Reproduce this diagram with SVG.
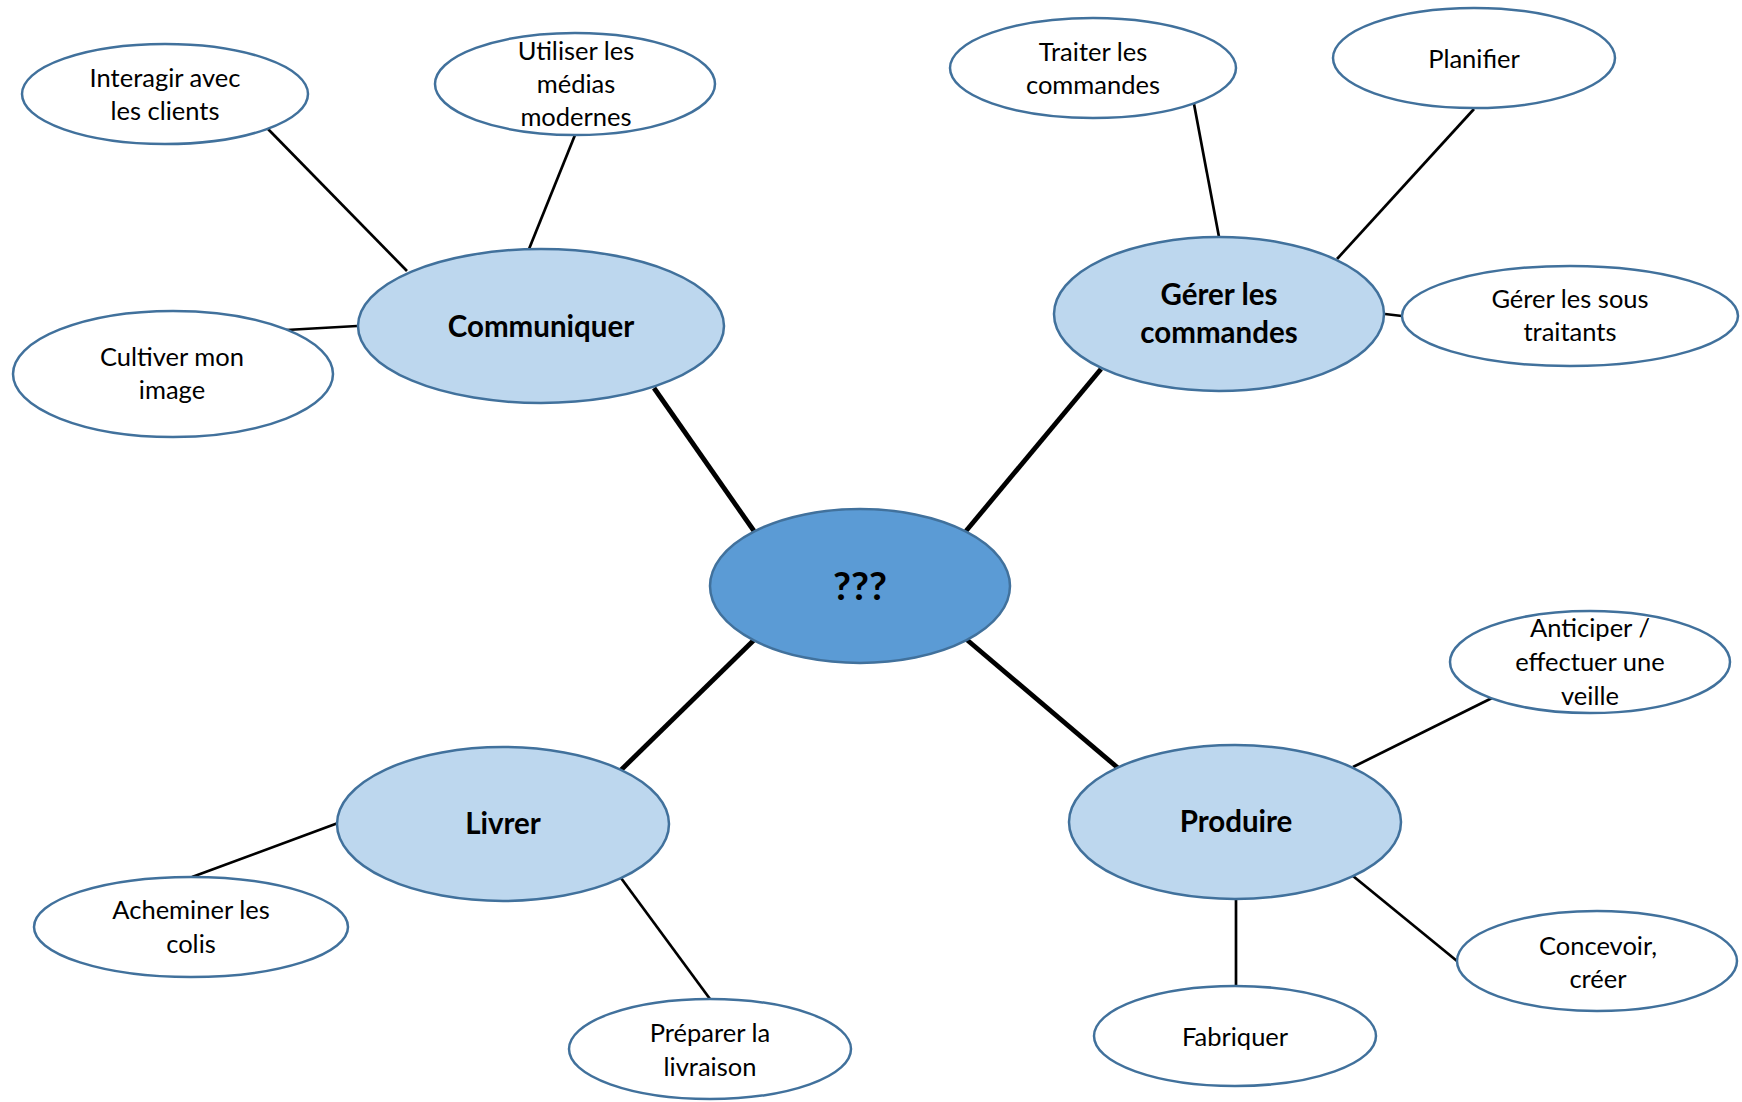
<svg xmlns="http://www.w3.org/2000/svg" width="1742" height="1102" viewBox="0 0 1742 1102">
<style>
  .leaf { fill: #FFFFFF; stroke: #41719C; stroke-width: 2.5; }
  .sub { fill: #BDD7EE; stroke: #41719C; stroke-width: 2.5; }
  .main { fill: #5B9BD5; stroke: #41719C; stroke-width: 2.5; }
  .thin { stroke: #000000; stroke-width: 2.7; fill: none; }
  .thick { stroke: #000000; stroke-width: 4.8; fill: none; }
  text { font-family: Lato, "Liberation Sans", sans-serif; fill: #000000; text-anchor: middle; }
  .t { font-size: 25.5px; }
  .b { font-size: 29.5px; font-weight: bold; }
  .c { font-size: 39px; font-weight: bold; }
</style>
<rect width="1742" height="1102" fill="#FFFFFF"/>
<g id="connectors">
  <line class="thick" x1="654" y1="388" x2="754" y2="531"/>
  <line class="thick" x1="1101" y1="369" x2="966" y2="531"/>
  <line class="thick" x1="754" y1="640" x2="621" y2="770"/>
  <line class="thick" x1="966" y1="639" x2="1118" y2="768"/>
  <line class="thin" x1="268" y1="129" x2="407" y2="271"/>
  <line class="thin" x1="575" y1="135" x2="529" y2="249"/>
  <line class="thin" x1="286" y1="330" x2="357" y2="326"/>
  <line class="thin" x1="1194" y1="104" x2="1219" y2="237"/>
  <line class="thin" x1="1474" y1="109" x2="1337" y2="259"/>
  <line class="thin" x1="1385" y1="314" x2="1402" y2="316"/>
  <line class="thin" x1="338" y1="823" x2="192" y2="877"/>
  <line class="thin" x1="621" y1="878" x2="710" y2="999"/>
  <line class="thin" x1="1353" y1="767" x2="1492" y2="698"/>
  <line class="thin" x1="1353" y1="876" x2="1457" y2="961"/>
  <line class="thin" x1="1236" y1="899" x2="1236" y2="986"/>
</g>
<g id="center">
  <ellipse class="main" cx="860" cy="586" rx="150" ry="77"/>
  <text class="c" x="860" y="600">???</text>
</g>
<g id="communiquer">
  <ellipse class="sub" cx="541" cy="326" rx="183" ry="77"/>
  <text class="b" x="541" y="337">Communiquer</text>
</g>
<g id="interagir">
  <ellipse class="leaf" cx="165" cy="94" rx="143" ry="50"/>
  <text class="t" x="165" y="87">Interagir avec</text>
  <text class="t" x="165" y="120">les clients</text>
</g>
<g id="utiliser">
  <ellipse class="leaf" cx="575" cy="84" rx="140" ry="51"/>
  <text class="t" x="576" y="60">Utiliser les</text>
  <text class="t" x="576" y="93">médias</text>
  <text class="t" x="576" y="126">modernes</text>
</g>
<g id="cultiver">
  <ellipse class="leaf" cx="173" cy="374" rx="160" ry="63"/>
  <text class="t" x="172" y="366">Cultiver mon</text>
  <text class="t" x="172" y="399">image</text>
</g>
<g id="gerer">
  <ellipse class="sub" cx="1219" cy="314" rx="165" ry="77"/>
  <text class="b" x="1219" y="305">Gérer les</text>
  <text class="b" x="1219" y="343">commandes</text>
</g>
<g id="traiter">
  <ellipse class="leaf" cx="1093" cy="68" rx="143" ry="50"/>
  <text class="t" x="1093" y="61">Traiter les</text>
  <text class="t" x="1093" y="94">commandes</text>
</g>
<g id="planifier">
  <ellipse class="leaf" cx="1474" cy="58" rx="141" ry="50"/>
  <text class="t" x="1474" y="68">Planifier</text>
</g>
<g id="soustraitants">
  <ellipse class="leaf" cx="1570" cy="316" rx="168" ry="50"/>
  <text class="t" x="1570" y="308">Gérer les sous</text>
  <text class="t" x="1570" y="341">traitants</text>
</g>
<g id="livrer">
  <ellipse class="sub" cx="503" cy="824" rx="166" ry="77"/>
  <text class="b" x="503" y="834">Livrer</text>
</g>
<g id="acheminer">
  <ellipse class="leaf" cx="191" cy="927" rx="157" ry="50"/>
  <text class="t" x="191" y="919">Acheminer les</text>
  <text class="t" x="191" y="953">colis</text>
</g>
<g id="preparer">
  <ellipse class="leaf" cx="710" cy="1049" rx="141" ry="50"/>
  <text class="t" x="710" y="1042">Préparer la</text>
  <text class="t" x="710" y="1076">livraison</text>
</g>
<g id="produire">
  <ellipse class="sub" cx="1235" cy="822" rx="166" ry="77"/>
  <text class="b" x="1236" y="832">Produire</text>
</g>
<g id="anticiper">
  <ellipse class="leaf" cx="1590" cy="662" rx="140" ry="51"/>
  <text class="t" x="1590" y="637">Anticiper /</text>
  <text class="t" x="1590" y="671">effectuer une</text>
  <text class="t" x="1590" y="705">veille</text>
</g>
<g id="concevoir">
  <ellipse class="leaf" cx="1597" cy="961" rx="140" ry="50"/>
  <text class="t" x="1598" y="955">Concevoir,</text>
  <text class="t" x="1598" y="988">créer</text>
</g>
<g id="fabriquer">
  <ellipse class="leaf" cx="1235" cy="1036" rx="141" ry="50"/>
  <text class="t" x="1235" y="1046">Fabriquer</text>
</g>
</svg>
